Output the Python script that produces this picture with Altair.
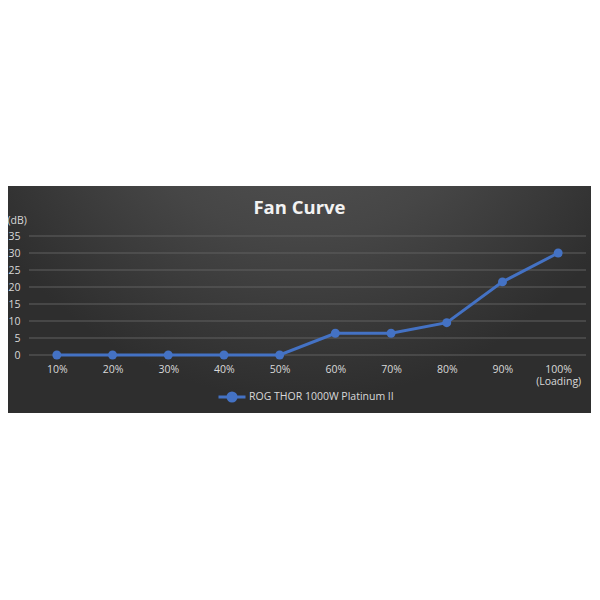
import altair as alt
import pandas as pd

loads = ["10%", "20%", "30%", "40%", "50%", "60%", "70%", "80%", "90%", "100%"]
noise_db = [0, 0, 0, 0, 0, 6.4, 6.4, 9.5, 21.5, 30.0]
series = "ROG THOR 1000W Platinum II"
y_ticks = [0, 5, 10, 15, 20, 25, 30, 35]

df = pd.DataFrame({"load": loads, "db": noise_db, "series": [series] * len(loads)})
grid_df = pd.DataFrame({"db": y_ticks})

BLUE = "#4472C4"
LABEL = "#d9d9d9"

band_fill = alt.Gradient(
    gradient="radial",
    x1=0.5, y1=0.05, r1=0,
    x2=0.5, y2=0.05, r2=0.62,
    stops=[
        alt.GradientStop(color="#5a5a5a", offset=0),
        alt.GradientStop(color="#464646", offset=0.55),
        alt.GradientStop(color="#2e2e2e", offset=1),
    ],
)

band = alt.Chart(pd.DataFrame({"k": [0]})).mark_rect(fill=band_fill).encode(
    x=alt.value(-21), x2=alt.value(569), y=alt.value(-50), y2=alt.value(177)
)

y_scale = alt.Scale(domain=[0, 35], nice=False)
y_axis = alt.Axis(
    values=y_ticks,
    tickCount=8,
    title="(dB)",
    titleAngle=0,
    titleX=-22,
    titleY=-16,
    titleAlign="left",
    titleBaseline="middle",
    titleFontSize=10.5,
    titleFontWeight="normal",
    titleColor=LABEL,
    titleFont="Open Sans",
    domain=False,
    ticks=False,
    grid=False,
    zindex=1,
    labelOverlap=False,
    labelFlush=False,
    labelPadding=9,
    labelFontSize=10.5,
    labelColor=LABEL,
    labelFont="Open Sans",
)

grid = alt.Chart(grid_df).mark_rule(color="#606060", strokeWidth=1).encode(
    y=alt.Y("db:Q", scale=y_scale, axis=y_axis), x=alt.value(0), x2=alt.value(557)
)

x_axis = alt.Axis(
    title=None,
    labelAngle=0,
    domain=False,
    ticks=False,
    grid=False,
    zindex=1,
    labelOverlap=False,
    labelPadding=9,
    labelFontSize=10.5,
    labelColor=LABEL,
    labelFont="Open Sans",
    labelExpr="datum.value == '100%' ? ['100%', '(Loading)'] : datum.label",
)
x_enc = alt.X("load:N", sort=loads, scale=alt.Scale(type="point", padding=0.5), axis=x_axis)

legend = alt.Legend(
    title=None,
    orient="none",
    legendX=188,
    legendY=146,
    symbolType="M-1,0L1,0M-0.3,0A0.3,0.3 0 1,1 0.3,0A0.3,0.3 0 1,1 -0.3,0",
    symbolSize=729,
    symbolStrokeWidth=3,
    symbolFillColor=BLUE,
    symbolStrokeColor=BLUE,
    labelFontSize=10.5,
    labelColor=LABEL,
    labelFont="Open Sans",
    labelOffset=2,
)

line = alt.Chart(df).mark_line(strokeWidth=3).encode(
    x=x_enc,
    y=alt.Y("db:Q", scale=y_scale, axis=y_axis),
    color=alt.Color("series:N", scale=alt.Scale(range=[BLUE]), legend=legend),
)
points = alt.Chart(df).mark_point(filled=True, size=80, opacity=1).encode(
    x=x_enc,
    y=alt.Y("db:Q", scale=y_scale, axis=y_axis),
    color=alt.Color("series:N", legend=None),
)

chart = (
    alt.layer(band, grid, line, points)
    .properties(
        width=557,
        height=119,
        autosize=alt.AutoSizeParams(type="none"),
        padding={"left": 21, "top": 228, "right": 5, "bottom": 190},
        background="white",
        title=alt.TitleParams(
            "Fan Curve",
            fontSize=18.5,
            font="Open Sans",
            fontWeight="bold",
            color="#f2f2f2",
            anchor="middle",
            frame="group",
            dx=-8,
            dy=43,
            offset=12,
            zindex=1,
        ),
    )
    .configure_view(stroke=None)
)

chart.save("out.html", embed_options={"renderer": "svg", "actions": False})
